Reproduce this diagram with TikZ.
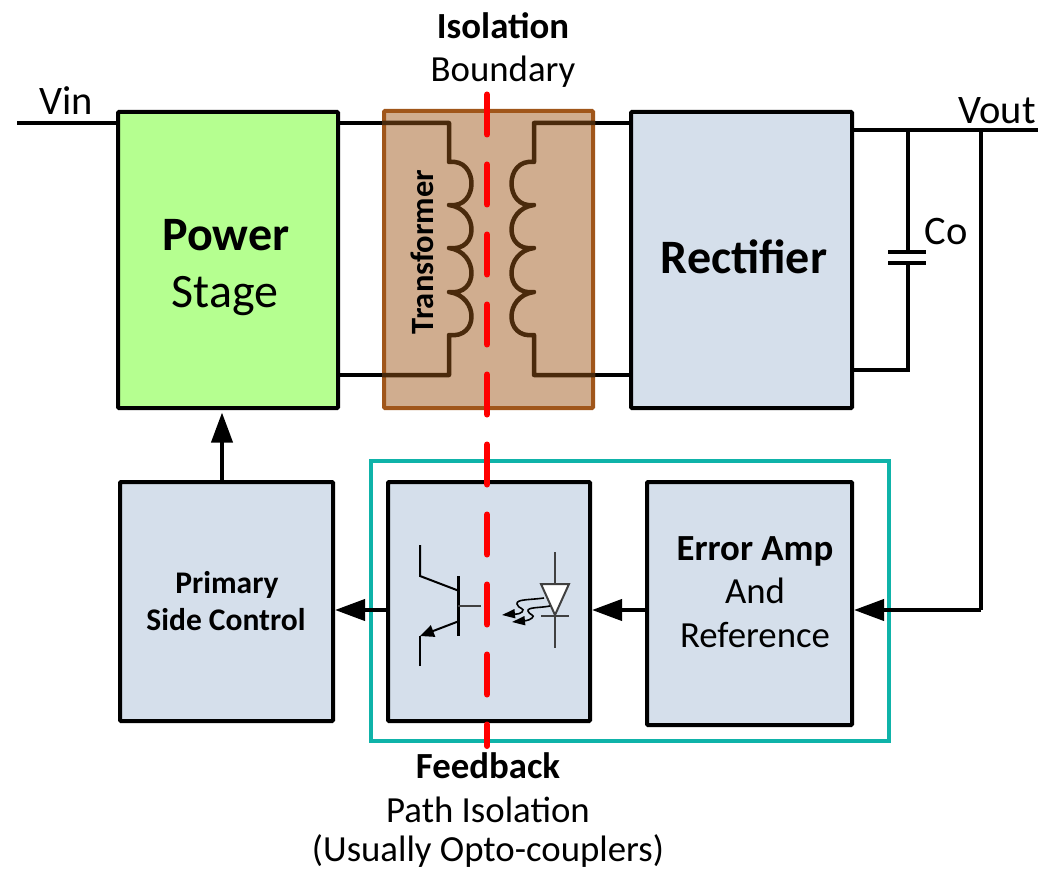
\documentclass[tikz,border=0pt]{standalone}
\usepackage{fontspec}
\setmainfont{Carlito}
\usepackage{xcolor}
\usepackage{tikz}
\usetikzlibrary{arrows}
\usetikzlibrary{arrows.meta}
\usetikzlibrary{calc}

\definecolor{boxblue}{HTML}{D5DFEB}
\definecolor{stagegreen}{HTML}{B5FF90}
\definecolor{coretan}{HTML}{D0AD8F}
\definecolor{coreedge}{HTML}{A0561A}
\definecolor{windbrown}{HTML}{4A2A0C}
\definecolor{fbteal}{HTML}{0FB3A9}
\definecolor{symgray}{HTML}{404040}

\tikzset{
  block/.style={draw=black, line width=4pt, rounded corners=1pt, fill=boxblue, minimum width=#1, inner sep=0pt},
  wire/.style={draw=black, line width=4pt},
  feed/.style={wire, -{Triangle[length=30pt,width=21pt]}},
  winding/.style={draw=windbrown, line width=4.5pt, line join=round},
  sym/.style={draw=symgray, line width=2pt},
  wave/.style={draw=black, line width=1.6pt, -{Triangle[length=13pt,width=9pt]}},
  txt/.style={font=\fontsize{36.8}{36.8}\selectfont, inner sep=0pt, align=center},
  txtbig/.style={font=\fontsize{48}{48}\selectfont, inner sep=0pt, align=center},
  txtpin/.style={font=\fontsize{40.5}{40.5}\selectfont, inner sep=0pt},
  txtsmall/.style={font=\fontsize{31.5}{31.5}\selectfont\bfseries, inner sep=0pt, align=center}
}

\begin{document}
\begin{tikzpicture}[x=1pt,y=-1pt]
\useasboundingbox (0,0) rectangle (1041,869);

\node[block=220pt, fill=stagegreen, minimum height=296pt] (power) at (228,260) {};
\node[block=221pt, minimum height=296pt] (rect) at (741.5,260) {};
\node[block=213pt, minimum height=239pt] (ctrl) at (226.5,601.5) {};
\node[block=202pt, minimum height=239pt] (opto) at (489,601.5) {};
\node[block=205pt, minimum height=243pt] (err) at (749.5,603.5) {};
\node[draw=fbteal, line width=4pt, minimum width=518pt, minimum height=280pt, inner sep=0pt] (fbbox) at (630,601) {};

\coordinate (vin) at (17,123);
\coordinate (vout) at (1038,130);
\coordinate (capnode) at (908,130);
\coordinate (fbnode) at (981,130);
\coordinate (fbturn) at (981,610);
\coordinate (priT) at (449,123);
\coordinate (priB) at (449,375);
\coordinate (secT) at (534,123);
\coordinate (secB) at (534,375);

\draw[wire] (vin) -- (vin -| power.west);
\draw[wire] (power.east |- priT) -- (priT);
\draw[wire] (power.east |- priB) -- (priB);
\draw[wire] (rect.west |- secT) -- (secT);
\draw[wire] (rect.west |- secB) -- (secB);

\node[draw=coreedge, fill=coretan, line width=4pt, rounded corners=1pt, minimum width=209pt, minimum height=297pt, inner sep=0pt] (core) at (488.5,259.5) {};

\draw[winding] (core.west |- priT) -- (priT) -- (449,162)
  .. controls (479,158) and (479,209) .. (449,205)
  .. controls (479,209) and (479,252) .. (449,248)
  .. controls (479,252) and (479,296) .. (449,292)
  .. controls (479,296) and (479,339) .. (449,335)
  -- (priB) -- (core.west |- priB);
\draw[winding] (core.east |- secT) -- (secT) -- (534,162)
  .. controls (504,158) and (504,209) .. (534,205)
  .. controls (504,209) and (504,252) .. (534,248)
  .. controls (504,252) and (504,296) .. (534,292)
  .. controls (504,296) and (504,339) .. (534,335)
  -- (secB) -- (core.east |- secB);

\draw[wire] (rect.east |- vout) -- (vout);
\draw[wire] (capnode) -- (908,252);
\draw[wire] (888,252) -- (926,252);
\draw[wire] (888,263) -- (926,263);
\draw[wire] (908,263) -- (908,370) -- (rect.east |- 0,370);
\draw[wire] (fbnode) -- (fbturn);

\draw[feed] (fbturn) -- (fbturn -| err.east);
\draw[feed] (err.west |- fbturn) -- (opto.east |- fbturn);
\draw[feed] (opto.west |- fbturn) -- (ctrl.east |- fbturn);
\draw[feed] (ctrl.north -| 222,0) -- (222,412.5);

\draw[line width=3pt] (458,576) -- (458,636);
\draw[sym] (458,606) -- (481,606);
\draw[sym, black] (420,545) -- (420,576) -- (458,590.5);
\draw[sym, black] (420,666) -- (420,636);
\draw[sym, black, {Triangle[length=14pt,width=12pt]}-] (420,636) -- (458,621.5);

\draw[sym] (555,552) -- (555,648);
\draw[sym, fill=white] (541,584) -- (569,584) -- (555,615) -- cycle;
\draw[sym] (541,616) -- (569,616);
\draw[wave] (544,598) .. controls (530,600) and (516,599) .. (517,604) .. controls (518,609) and (526,608) .. (522,612) .. controls (519,615) and (512,614) .. (502,615);
\draw[wave] (550,606) .. controls (540,608) and (527,607) .. (528,611) .. controls (529,615) and (536,615) .. (532,618) .. controls (529,621) and (522,621) .. (512,622);

\coordinate (bndtop) at (487,94.5);
\coordinate (bndbot) at (487,746);
\draw[red, line width=6pt, line cap=round, dash pattern=on 40pt off 30pt] (bndtop) -- (bndbot);

\node[txt] (isoA) at (503,26) {\textbf{Isolation}};
\node[txt] (isoB) at (503,72) {Boundary};
\node[txtpin] (vinlbl) at (66,101) {Vin};
\node[txtpin] (voutlbl) at (997,111) {Vout};
\node[txtpin] (colbl) at (946,231) {Co};
\node[txtbig] (powerlbl) at (226,235) {\textbf{Power}};
\node[txtbig] (stagelbl) at (225,296) {Stage};
\node[txtbig] (rectlbl) at (744,257) {\textbf{Rectifier}};
\node[font=\fontsize{32.5}{32.5}\selectfont\bfseries, inner sep=0pt, rotate=90] (corelbl) at (422,252) {Transformer};
\node[txtsmall] (ctrlA) at (227,585) {Primary};
\node[txtsmall] (ctrlB) at (226,620) {Side Control};
\node[txt] (errA) at (755,551) {\textbf{Error Amp}};
\node[txt] (errB) at (755,591) {And};
\node[txt] (errC) at (755,635) {Reference};
\node[txt] (fbA) at (488,766) {\textbf{Feedback}};
\node[txt] (fbB) at (488,810) {Path Isolation};
\node[txt] (fbC) at (488,851) {(Usually Opto-couplers)};
\end{tikzpicture}
\end{document}
